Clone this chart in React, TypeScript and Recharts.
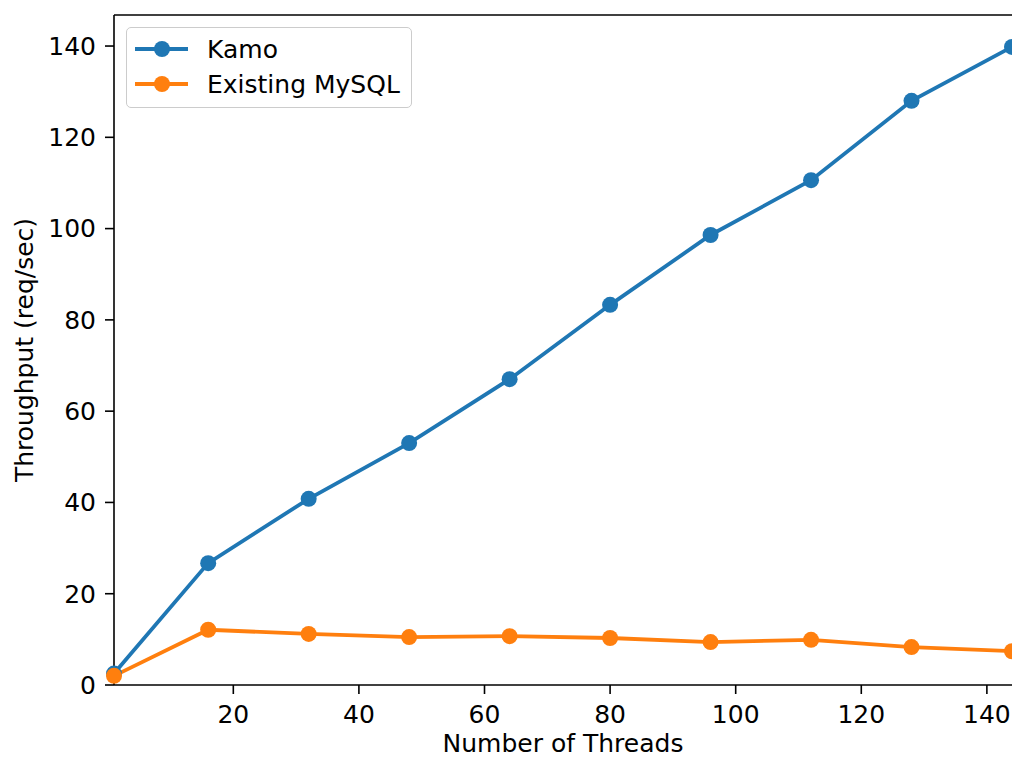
import React from 'react';
import {
  LineChart,
  Line,
  XAxis,
  YAxis,
  ReferenceLine,
  Label,
} from 'recharts';

const BLUE = '#1f77b4';
const ORANGE = '#ff7f0e';
const FONT = '"DejaVu Sans", sans-serif';
const FS = 25;

// Thread counts and measured throughput (req/sec)
const threads = [1, 16, 32, 48, 64, 80, 96, 112, 128, 144];
const kamo = [2.5, 26.7, 40.8, 53.0, 67.0, 83.3, 98.6, 110.6, 128.0, 139.8];
const mysql = [2.0, 12.1, 11.2, 10.5, 10.7, 10.3, 9.4, 9.9, 8.3, 7.4];

const xTicks = [20, 40, 60, 80, 100, 120, 140];
const yTicks = [0, 20, 40, 60, 80, 100, 120, 140];
const yTop = 146.8;

const data = threads.map((t, i) => ({ threads: t, kamo: kamo[i], mysql: mysql[i] }));

const series = [
  { key: 'kamo', name: 'Kamo', color: BLUE },
  { key: 'mysql', name: 'Existing MySQL', color: ORANGE },
];

// legend drawn as an overlay so it doesn't shrink the plot area
function LegendBox() {
  return (
    <div
      style={{
        position: 'absolute',
        left: 126,
        top: 27,
        width: 284,
        height: 79,
        border: '1.5px solid #cccccc',
        borderRadius: 5,
        background: 'rgba(255,255,255,0.8)',
        fontFamily: FONT,
        fontSize: FS,
      }}
    >
      {series.map((s, i) => (
        <div
          key={s.key}
          style={{ position: 'absolute', left: 0, top: 6 + i * 35, height: 30, display: 'flex', alignItems: 'center' }}
        >
          <svg width={70} height={30} style={{ display: 'block' }}>
            <line x1={8} x2={61} y1={15} y2={15} stroke={s.color} strokeWidth={3.8} />
            <circle cx={35} cy={15} r={8} fill={s.color} />
          </svg>
          <span style={{ marginLeft: 10, color: '#000', whiteSpace: 'nowrap' }}>{s.name}</span>
        </div>
      ))}
    </div>
  );
}

export default function App() {
  const tick = { fill: '#000', fontSize: FS, fontFamily: FONT };
  return (
    <div style={{ position: 'absolute', left: 0, top: 0, width: 1012, height: 758, background: '#fff' }}>
      <LineChart width={1012} height={758} data={data} margin={{ top: 15, right: 0, bottom: 0, left: 0 }}>
        <XAxis
          dataKey="threads"
          type="number"
          domain={[1, 144]}
          ticks={xTicks}
          height={73}
          tick={tick}
          tickSize={9}
          tickMargin={11}
          stroke="#000"
          strokeWidth={1.6}
          tickLine={{ stroke: '#000', strokeWidth: 1.6 }}
        >
          <Label
            value="Number of Threads"
            position="insideBottom"
            offset={6}
            style={{ fill: '#000', fontSize: FS, fontFamily: FONT }}
          />
        </XAxis>
        <YAxis
          type="number"
          domain={[0, yTop]}
          ticks={yTicks}
          width={114}
          tick={tick}
          tickSize={9}
          tickMargin={9}
          stroke="#000"
          strokeWidth={1.6}
          tickLine={{ stroke: '#000', strokeWidth: 1.6 }}
        >
          <Label
            value="Throughput (req/sec)"
            angle={-90}
            position="insideLeft"
            offset={24}
            style={{ fill: '#000', fontSize: FS, fontFamily: FONT, textAnchor: 'middle' }}
          />
        </YAxis>
        <ReferenceLine y={yTop} stroke="#000" strokeWidth={1.6} />
        {series.map((s) => (
          <Line
            key={s.key}
            dataKey={s.key}
            name={s.name}
            stroke={s.color}
            strokeWidth={3.8}
            dot={{ r: 8, fill: s.color, stroke: s.color, strokeWidth: 0 }}
            activeDot={false}
            isAnimationActive={false}
            type="linear"
          />
        ))}
      </LineChart>
      <LegendBox />
    </div>
  );
}
